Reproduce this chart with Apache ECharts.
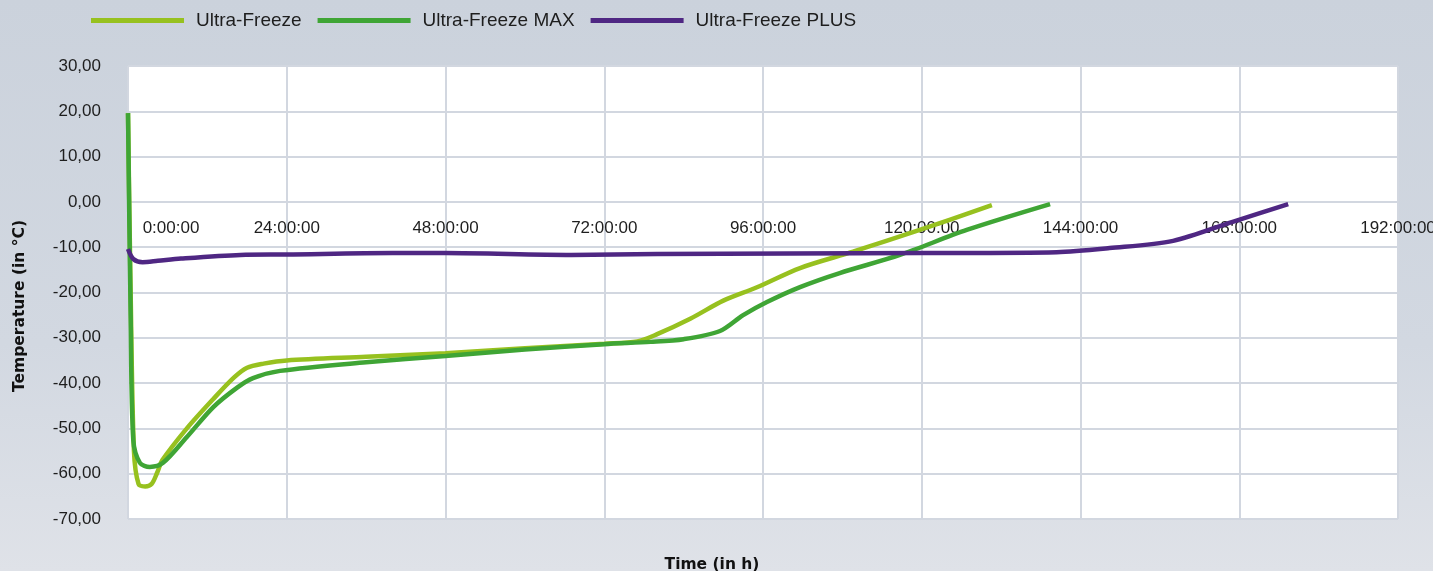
<!DOCTYPE html>
<html>
<head>
<meta charset="utf-8">
<title>Ultra-Freeze temperature curves</title>
<script src="https://cdn.jsdelivr.net/npm/echarts@6/dist/echarts.min.js"></script>
<style>
  html, body { margin: 0; padding: 0; overflow: hidden; }
  body { background: linear-gradient(180deg, #cbd2dc 0%, #d2d8e1 60%, #dfe2e8 100%); }
  #chart { width: 1433px; height: 571px; }
</style>
</head>
<body>
<div id="chart"></div>
<script>
  // x: hours, y: °C
  var seriesNames = ['Ultra-Freeze', 'Ultra-Freeze MAX', 'Ultra-Freeze PLUS']
  var lineColors = ['#97c11f', '#3fa535', '#4f2783']

  var ufHours = [0, 0.4, 0.9, 1.6, 2.6, 3.6, 4.4, 5.2, 8.9, 12.9, 16, 18, 20.5, 24, 36, 48, 60, 72, 77, 80, 85, 90, 95, 101.6, 109.6, 119.7, 130.6]
  var ufTemp = [19.6, -20, -55, -62.3, -62.8, -62.2, -59.8, -57, -50, -43.5, -38.8, -36.6, -35.7, -35, -34.2, -33.4, -32.3, -31.3, -30.8, -29.2, -25.8, -21.8, -18.9, -14.6, -11, -6.2, -0.7]

  var maxHours = [0, 0.4, 0.8, 1.8, 3.3, 5.3, 8.9, 12.9, 16.5, 18.9, 23, 36, 48, 60, 72, 79, 84, 89.5, 93, 96.6, 101.6, 107.6, 116.7, 126.8, 139.4]
  var maxTemp = [19.6, -25, -52.6, -57.6, -58.5, -57.6, -51.9, -45.3, -41, -38.9, -37.3, -35.4, -34, -32.6, -31.4, -30.9, -30.3, -28.5, -25, -22.1, -18.8, -15.7, -11.7, -6.2, -0.5]

  var plusHours = [0, 0.8, 2.2, 4.5, 8, 17, 24, 40, 48, 67, 80, 100, 120, 140.4, 148.4, 158, 167, 175.4]
  var plusTemp = [-10.4, -12.6, -13.3, -13, -12.5, -11.7, -11.6, -11.3, -11.3, -11.7, -11.5, -11.4, -11.3, -11.1, -10.2, -8.6, -4.4, -0.5]

  var yTicks = { min: -70, max: 30, step: 10 }
  var xTicks = { min: 0, max: 192, step: 24 }

  function zip (xs, ys) {
    return xs.map(function (x, i) { return [x, ys[i]] })
  }

  var labelFont = "'Liberation Sans', Arial, sans-serif"
  var titleFont = "'DejaVu Sans', Verdana, sans-serif"
  var gridColor = '#d2d7e0'

  // grid box in px
  var gridTop = 66
  var gridBottom = 52
  var chartH = 571
  // x labels sit under the 0 °C line: move the axis up from the bottom edge
  var plotH = chartH - gridTop - gridBottom
  var zeroOffset = -plotH * (0 - yTicks.min) / (yTicks.max - yTicks.min)

  var myChart = echarts.init(document.getElementById('chart'), null, { renderer: 'canvas' })

  var option = {
    backgroundColor: 'transparent',
    animation: false,
    legend: {
      left: 86,
      top: 6,
      icon: 'rect',
      itemWidth: 93,
      itemHeight: 5,
      itemGap: 16,
      textStyle: {
        fontFamily: labelFont,
        fontSize: 19,
        color: '#1e1e1e',
        padding: [0, 0, 0, 7]
      },
      data: seriesNames
    },
    grid: {
      left: 128,
      right: 35,
      top: gridTop,
      bottom: gridBottom,
      outerBoundsMode: 'none',
      containLabel: false,
      show: true,
      backgroundColor: '#ffffff',
      borderWidth: 0
    },
    xAxis: {
      type: 'value',
      position: 'bottom',
      offset: zeroOffset,
      min: xTicks.min,
      max: xTicks.max,
      interval: xTicks.step,
      axisLine: { show: false, onZero: false },
      axisTick: { show: false },
      axisLabel: {
        margin: 18,
        color: '#1e1e1e',
        fontFamily: labelFont,
        fontSize: 17,
        formatter: function (v) {
          if (v === 0) return '{first|0:00:00}'
          return v + ':00:00'
        },
        rich: {
          first: { padding: [0, 0, 0, 86], fontFamily: labelFont, fontSize: 17, color: '#1e1e1e' }
        }
      },
      splitLine: { show: true, lineStyle: { color: gridColor, width: 2 } }
    },
    yAxis: {
      type: 'value',
      min: yTicks.min,
      max: yTicks.max,
      interval: yTicks.step,
      axisLine: { show: false },
      axisTick: { show: false },
      axisLabel: {
        margin: 27,
        color: '#1e1e1e',
        fontFamily: labelFont,
        fontSize: 17,
        formatter: function (v) { return v.toFixed(2).replace('.', ',') }
      },
      splitLine: { show: true, lineStyle: { color: gridColor, width: 2 } }
    },
    graphic: [
      {
        type: 'text',
        x: 20,
        y: 306,
        rotation: Math.PI / 2,
        style: {
          text: 'Temperature (in °C)',
          fontFamily: titleFont,
          fontWeight: 'bold',
          fontSize: 15.5,
          fill: '#111',
          align: 'center',
          verticalAlign: 'middle'
        }
      },
      {
        type: 'text',
        x: 712,
        y: 565,
        style: {
          text: 'Time (in h)',
          fontFamily: titleFont,
          fontWeight: 'bold',
          fontSize: 15.5,
          fill: '#111',
          align: 'center',
          verticalAlign: 'middle'
        }
      }
    ],
    series: [
      { name: seriesNames[0], data: zip(ufHours, ufTemp) },
      { name: seriesNames[1], data: zip(maxHours, maxTemp) },
      { name: seriesNames[2], data: zip(plusHours, plusTemp) }
    ].map(function (s, i) {
      return {
        name: s.name,
        type: 'line',
        smooth: 0.3,
        showSymbol: false,
        symbol: 'none',
        lineStyle: { color: lineColors[i], width: 4.5 },
        itemStyle: { color: lineColors[i] },
        data: s.data
      }
    })
  }

  myChart.setOption(option)
</script>
</body>
</html>
